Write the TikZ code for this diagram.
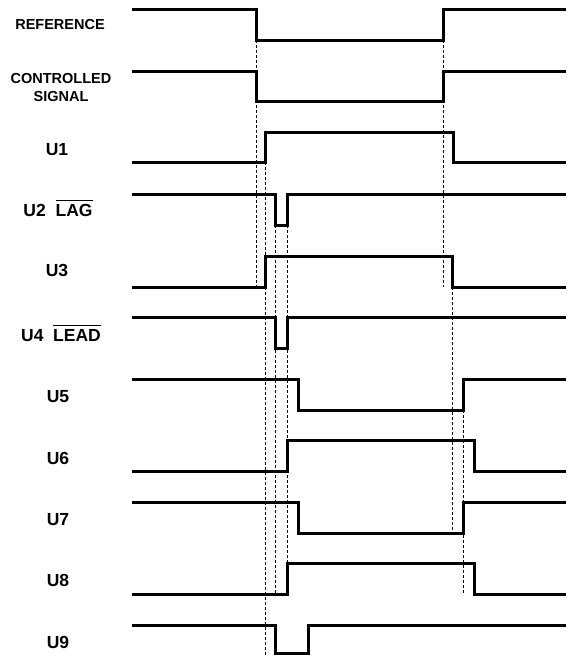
\documentclass[tikz,border=0pt]{standalone}
\usepackage{fontspec}
\setmainfont{Liberation Sans}
\usepackage{tikz}

\newcommand{\barsig}[1]{$\overline{\mbox{#1\rule{0pt}{14.5pt}}}$}

\begin{document}
\begin{tikzpicture}[x=1pt,y=-1pt,
    wave/.style={line width=3pt},
    guide/.style={line width=1pt,dash pattern=on 3pt off 2pt},
    sig/.style={font=\bfseries\fontsize{17.5}{18}\selectfont},
    sigsmall/.style={font=\bfseries\fontsize{14.5}{18}\selectfont,align=center}]
  \useasboundingbox (0,0) rectangle (566,656);
  % waveforms: first level / second level / first edge / second edge
  \foreach \ya/\yb/\xa/\xb [count=\i] in {9/40/256/443, 71/101/256/443,
      162/132/265/453, 194/225/275/287, 287/256/265/452, 317/348/275/287,
      379/410/298/463, 471/440/287/474, 502/533/298/463, 594/563/287/474,
      625/653/275/308}
    \draw[wave] (132,\ya) coordinate (s\i) -| (\xa,\yb) coordinate (a\i)
      -| (\xb,\ya) coordinate (b\i) -- (566,\ya);
  \coordinate (bot) at (132,656);

  % timing guides
  \draw[guide] (a1) -- (a1 |- s5);
  \draw[guide] (a3 |- s3) -- (a3 |- bot);
  \draw[guide] (a4) -- (a4 |- s10);
  \draw[guide] (a10 |- a4) -- (a10);
  \draw[guide] (b1 |- a1) -- (b1 |- s5);
  \draw[guide] (b5) -- (b5 |- a9);
  \draw[guide] (b7 |- a7) -- (b7 |- s10);

  % labels
  \node[sigsmall] (ref)  at (60,25) {REFERENCE};
  \node[sigsmall] (ctrl) at (61,88) {CONTROLLED\\SIGNAL};
  \node[sig] (u1) at (57,150) {U1};
  \node[sig,anchor=base] (u2) at (58,216) {U2\ \ \barsig{LAG}};
  \node[sig] (u3) at (57,270) {U3};
  \node[sig,anchor=base] (u4) at (61,341) {U4\ \ \barsig{LEAD}};
  \node[sig] (u5) at (58,397) {U5};
  \node[sig] (u6) at (58,458) {U6};
  \node[sig] (u7) at (58,520) {U7};
  \node[sig] (u8) at (58,580) {U8};
  \node[sig] (u9) at (58,642) {U9};
\end{tikzpicture}
\end{document}
